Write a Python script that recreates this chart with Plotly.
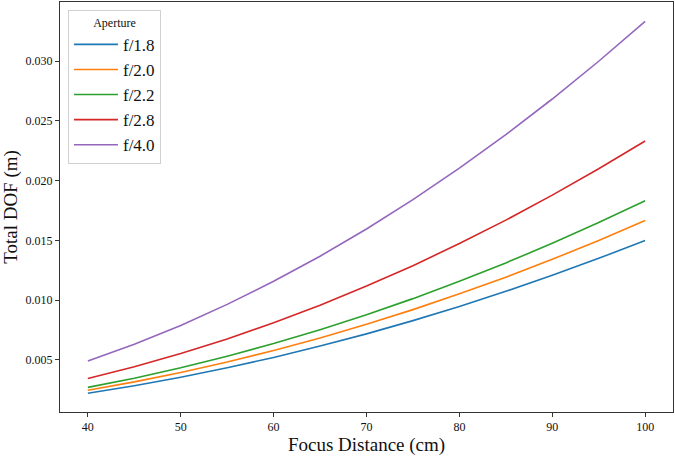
import plotly.graph_objects as go

focus_cm = [40, 45, 50, 55, 60, 65, 70, 75, 80, 85, 90, 95, 100]
dof_f18 = [0.00221, 0.00284, 0.00355, 0.00434, 0.00521, 0.00616, 0.00718, 0.00829, 0.00947, 0.01074, 0.01208, 0.01350, 0.01500]
dof_f20 = [0.00246, 0.00316, 0.00395, 0.00482, 0.00579, 0.00684, 0.00798, 0.00921, 0.01053, 0.01193, 0.01342, 0.01500, 0.01667]
dof_f22 = [0.00270, 0.00347, 0.00434, 0.00531, 0.00637, 0.00753, 0.00878, 0.01013, 0.01158, 0.01312, 0.01476, 0.01650, 0.01833]
dof_f28 = [0.00344, 0.00442, 0.00553, 0.00675, 0.00811, 0.00958, 0.01118, 0.01289, 0.01474, 0.01670, 0.01879, 0.02100, 0.02333]
dof_f40 = [0.00491, 0.00632, 0.00789, 0.00965, 0.01158, 0.01368, 0.01596, 0.01842, 0.02105, 0.02386, 0.02684, 0.03000, 0.03333]

labels = ["f/1.8", "f/2.0", "f/2.2", "f/2.8", "f/4.0"]
series = [dof_f18, dof_f20, dof_f22, dof_f28, dof_f40]
colors = ["#1f77b4", "#ff7f0e", "#2ca02c", "#d62728", "#9467bd"]

x_ticks = [40, 50, 60, 70, 80, 90, 100]
y_ticks = [0.005, 0.010, 0.015, 0.020, 0.025, 0.030]

fig = go.Figure()
for lab, ys, c in zip(labels, series, colors):
    fig.add_trace(go.Scatter(x=focus_cm, y=ys, mode="lines", name=lab,
                             line=dict(color=c, width=1.6)))

font_family = "Liberation Serif"
fig.update_layout(
    width=675, height=456,
    margin=dict(l=60, r=2, t=2, b=44),
    paper_bgcolor="white", plot_bgcolor="white",
    font=dict(family=font_family, color="#111"),
    showlegend=True,
    legend=dict(
        title=dict(text="Aperture", side="top center", font=dict(size=12, family=font_family)),
        font=dict(size=17, family=font_family),
        x=0.013, y=0.98, xanchor="left", yanchor="top",
        bgcolor="white", bordercolor="#d0d0d0", borderwidth=1,
        itemwidth=44,
        tracegroupgap=0,
    ),
    xaxis=dict(
        range=[37, 103], tickvals=x_ticks, ticktext=[str(v) for v in x_ticks],
        ticks="outside", ticklen=4, tickcolor="#333", tickwidth=1,
        showline=True, linecolor="#333", linewidth=1, mirror=True,
        showgrid=False, zeroline=False,
        tickfont=dict(size=12, family=font_family),
        title=dict(text="Focus Distance (cm)", font=dict(size=19, family=font_family), standoff=2),
    ),
    yaxis=dict(
        range=[0.00064, 0.03496], tickvals=y_ticks, ticktext=[f"{v:.3f}" for v in y_ticks],
        ticks="outside", ticklen=4, tickcolor="#333", tickwidth=1,
        showline=True, linecolor="#333", linewidth=1, mirror=True,
        showgrid=False, zeroline=False,
        tickfont=dict(size=12, family=font_family),
        title=dict(text="Total DOF (m)", font=dict(size=19, family=font_family), standoff=6),
    ),
)

fig.write_html("out.html")
